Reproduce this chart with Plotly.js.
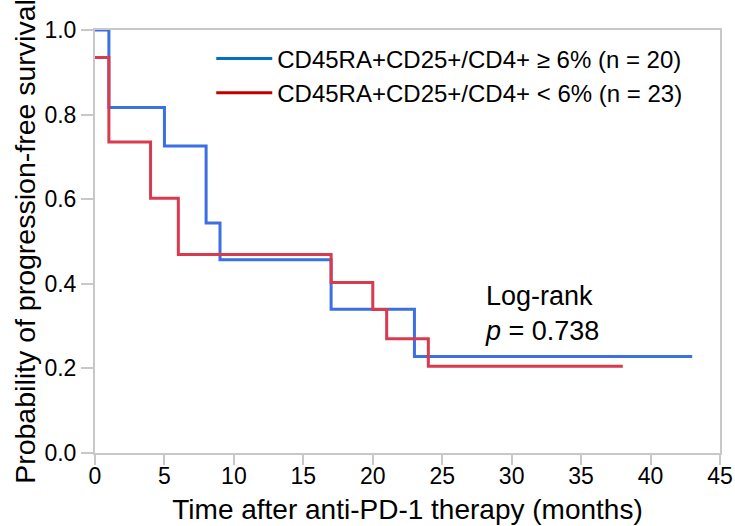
<!DOCTYPE html>
<html>
<head>
<meta charset="utf-8">
<script src="https://cdn.plot.ly/plotly-3.0.1.min.js"></script>
<style>html,body{margin:0;padding:0;background:#fff;}#chart{width:735px;height:526px;}</style>
</head>
<body>
<div id="chart"></div>
<script>
// Kaplan-Meier step data (months, survival probability)
const highTime = [0, 1, 5, 8, 9, 17, 23, 43];
const highSurv = [1.0, 0.817, 0.726, 0.544, 0.457, 0.340, 0.228, 0.228];
const lowTime = [0, 1, 4, 6, 17, 20, 21, 24, 38];
const lowSurv = [0.935, 0.735, 0.602, 0.469, 0.403, 0.339, 0.270, 0.205, 0.205];
const seriesNames = ["CD45RA+CD25+/CD4+ ≥ 6% (n = 20)", "CD45RA+CD25+/CD4+ < 6% (n = 23)"];
const xTicks = [0, 5, 10, 15, 20, 25, 30, 35, 40, 45];
const yTicks = [0.0, 0.2, 0.4, 0.6, 0.8, 1.0];
const pValueText = "Log-rank<br><i>p</i> = 0.738";

const FONT = "Arial, 'Liberation Sans', sans-serif";

const traces = [
  {x: highTime, y: highSurv, mode: "lines", line: {shape: "hv", color: "#3b6fe3", width: 3}, showlegend: false, name: seriesNames[0], hoverinfo: "skip"},
  {x: lowTime, y: lowSurv, mode: "lines", line: {shape: "hv", color: "#d93a4e", width: 3}, showlegend: false, name: seriesNames[1], hoverinfo: "skip"},
  // legend entries (legend swatches use a different tone in the original)
  {x: [null], y: [null], mode: "lines", line: {color: "#0070c0", width: 3}, name: seriesNames[0]},
  {x: [null], y: [null], mode: "lines", line: {color: "#c00000", width: 3}, name: seriesNames[1]}
];

const layout = {
  width: 735, height: 526,
  margin: {l: 95, r: 15, t: 30, b: 73},
  paper_bgcolor: "#fff", plot_bgcolor: "#fff",
  font: {family: FONT, color: "#000", size: 23},
  showlegend: true,
  legend: {x: 0.186, y: 0.985, xanchor: "left", yanchor: "top", bgcolor: "rgba(0,0,0,0)", borderwidth: 0, font: {size: 24, family: FONT, color: "#000"}, itemwidth: 56, tracegroupgap: 0},
  xaxis: {
    range: [0, 45], tickvals: xTicks, ticktext: xTicks.map(String),
    showline: true, linecolor: "#c8c8c8", linewidth: 2, mirror: true,
    ticks: "outside", ticklen: 10, tickwidth: 2, tickcolor: "#c8c8c8",
    ticklabelstandoff: -9,
    showgrid: false, zeroline: false, fixedrange: true,
    tickfont: {size: 23, family: FONT, color: "#000"},
    title: {text: "Time after anti-PD-1 therapy (months)", font: {size: 28, family: FONT, color: "#000"}, standoff: 12}
  },
  yaxis: {
    range: [0, 1], tickvals: yTicks, ticktext: yTicks.map(v => v.toFixed(1)),
    showline: true, linecolor: "#c8c8c8", linewidth: 2, mirror: true,
    ticks: "outside", ticklen: 12, tickwidth: 2, tickcolor: "#c8c8c8",
    showgrid: false, zeroline: false, fixedrange: true,
    tickfont: {size: 23, family: FONT, color: "#000"},
    title: {text: "Probability of progression-free survival", font: {size: 28.5, family: FONT, color: "#000"}, standoff: 0}
  },
  annotations: [
    {x: 27.9, y: 0.329, xref: "x", yref: "y", xanchor: "left", yanchor: "middle", align: "left", showarrow: false, text: pValueText, font: {size: 27, family: FONT, color: "#000"}}
  ]
};

Plotly.newPlot("chart", traces, layout, {displayModeBar: false, staticPlot: true});
</script>
</body>
</html>
